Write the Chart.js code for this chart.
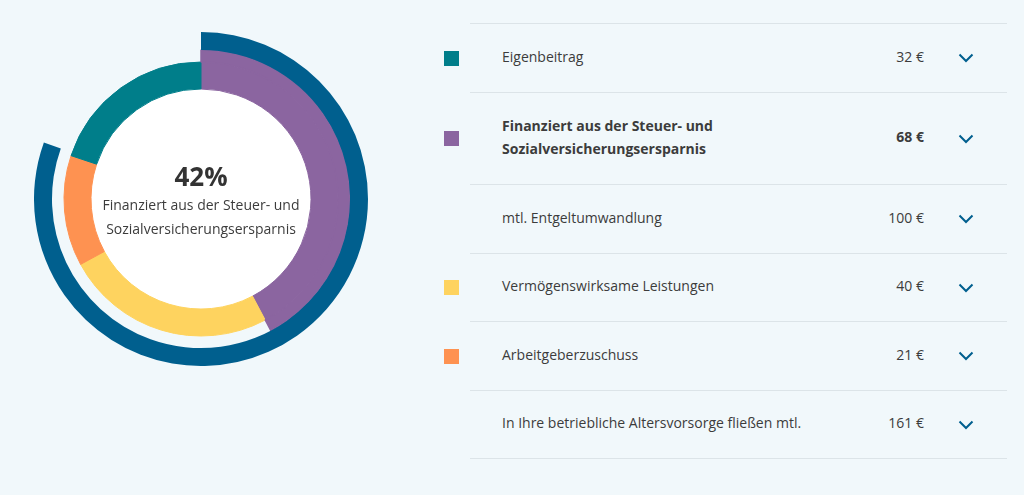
<!DOCTYPE html>
<html lang="de">
<head>
<meta charset="utf-8">
<script src="https://cdn.jsdelivr.net/npm/chart.js@4.4.1/dist/chart.umd.min.js"></script>
<style>
  html, body { margin: 0; padding: 0; }
  body {
    width: 1024px; height: 495px; overflow: hidden;
    background: #f1f8fb;
    font-family: "Open Sans", Lato, sans-serif;
    color: #3c3c3c;
    position: relative;
  }
  #chartBox { position: absolute; left: 34px; top: 32px; width: 334px; height: 334px; }
  #center {
    position: absolute; left: 61px; top: 159px; width: 280px;
    text-align: center; pointer-events: none;
  }
  #center .pct { font-size: 26px; font-weight: 700; color: #333; line-height: 34px; }
  #center .txt { font-size: 14px; line-height: 24px; margin-top: 0; }
  #liste { position: absolute; left: 470px; top: 23px; width: 537px; }
  .zeile {
    position: relative; border-top: 1px solid #dce4e8;
    display: flex; align-items: center; font-size: 14px;
  }
  .zeile:last-child { border-bottom: 1px solid #dce4e8; }
  .zeile .quadrat { position: absolute; left: -26px; width: 15px; height: 15px; }
  .zeile .label { margin-left: 32px; flex: 1; line-height: 23px; white-space: pre-line; position: relative; top: -2px; }
  .zeile .wert { width: 60px; text-align: right; margin-right: 83px; position: relative; top: -2px; }
  .zeile svg { position: absolute; right: 33px; }
  .zeile.fett { font-weight: 700; }
</style>
</head>
<body>
<div id="chartBox"><canvas id="ringChart"></canvas></div>
<div id="center"><div class="pct" id="prozent"></div><div class="txt" id="centerText"></div></div>
<div id="liste"></div>

<script>
// Daten der Tabelle
const kategorien = ['Eigenbeitrag', 'Finanziert aus der Steuer- und\nSozialversicherungsersparnis', 'mtl. Entgeltumwandlung', 'Vermögenswirksame Leistungen', 'Arbeitgeberzuschuss', 'In Ihre betriebliche Altersvorsorge fließen mtl.'];
const betraege = [32, 68, 100, 40, 21, 161];
const quadratFarben = ['#007e8a', '#8b65a0', null, '#fed35f', '#fe9251', null];
const zeilenHoehen = [68, 91, 68, 67, 68, 67];

// Daten des Rings (im Uhrzeigersinn ab 12 Uhr)
const ringLabels = ['Finanziert aus der Steuer- und Sozialversicherungsersparnis', 'Vermögenswirksame Leistungen', 'Arbeitgeberzuschuss', 'Eigenbeitrag'];
const ringWerte = [68, 40, 21, 32];
const ringFarben = ['#8b65a0', '#fed35f', '#fe9251', '#007e8a'];
const gesamtWert = 161;
const skalaMax = 200;

const blau = '#005f8e';
const leer = 'rgba(0,0,0,0)';

// Tabelle aufbauen
const liste = document.getElementById('liste');
kategorien.forEach((kat, i) => {
    const zeile = document.createElement('div');
    zeile.className = 'zeile' + (i === 1 ? ' fett' : '');
    zeile.style.height = zeilenHoehen[i] + 'px';
    if (quadratFarben[i]) {
        const q = document.createElement('div');
        q.className = 'quadrat';
        q.style.background = quadratFarben[i];
        zeile.appendChild(q);
    }
    const label = document.createElement('div');
    label.className = 'label';
    label.textContent = kat;
    zeile.appendChild(label);
    const wert = document.createElement('div');
    wert.className = 'wert';
    wert.textContent = betraege[i] + ' €';
    zeile.appendChild(wert);
    zeile.insertAdjacentHTML('beforeend',
        '<svg width="16" height="10" viewBox="0 0 16 10"><polyline points="1.5,1.5 8,8 14.5,1.5" fill="none" stroke="#005f8e" stroke-width="2"/></svg>');
    liste.appendChild(zeile);
});

// Mitte des Rings
document.getElementById('prozent').textContent = Math.round(ringWerte[0] / gesamtWert * 100) + '%';
document.getElementById('centerText').innerHTML = 'Finanziert aus der Steuer- und<br>Sozialversicherungsersparnis';

// weißer Innenkreis
const innenKreis = {
    id: 'innenKreis',
    beforeDatasetsDraw(chart) {
        const arc = chart.getDatasetMeta(2).data[0];
        if (!arc) return;
        const ctx = chart.ctx;
        ctx.save();
        ctx.fillStyle = '#ffffff';
        ctx.beginPath();
        ctx.arc(arc.x, arc.y, arc.innerRadius, 0, Math.PI * 2);
        ctx.fill();
        ctx.restore();
    }
};

document.addEventListener('DOMContentLoaded', function() {
    const ctx = document.getElementById('ringChart').getContext('2d');
    new Chart(ctx, {
        type: 'doughnut',
        data: {
            labels: ringLabels,
            datasets: [{
                data: [gesamtWert, skalaMax - gesamtWert],
                backgroundColor: [blau, leer],
                borderWidth: 0,
                weight: 18
            }, {
                data: ringWerte,
                backgroundColor: [ringFarben[0], leer, leer, leer],
                borderColor: [ringFarben[0], leer, leer, leer],
                borderWidth: [1.5, 0, 0, 0],
                weight: 12
            }, {
                data: ringWerte,
                backgroundColor: ringFarben,
                borderColor: ringFarben,
                borderWidth: 1,
                weight: 27
            }]
        },
        options: {
            responsive: true,
            maintainAspectRatio: false,
            animation: false,
            events: [],
            cutout: 110,
            layout: { padding: 0 },
            plugins: { legend: { display: false }, tooltip: { enabled: false } }
        },
        plugins: [innenKreis]
    });
});
</script>
</body>
</html>
